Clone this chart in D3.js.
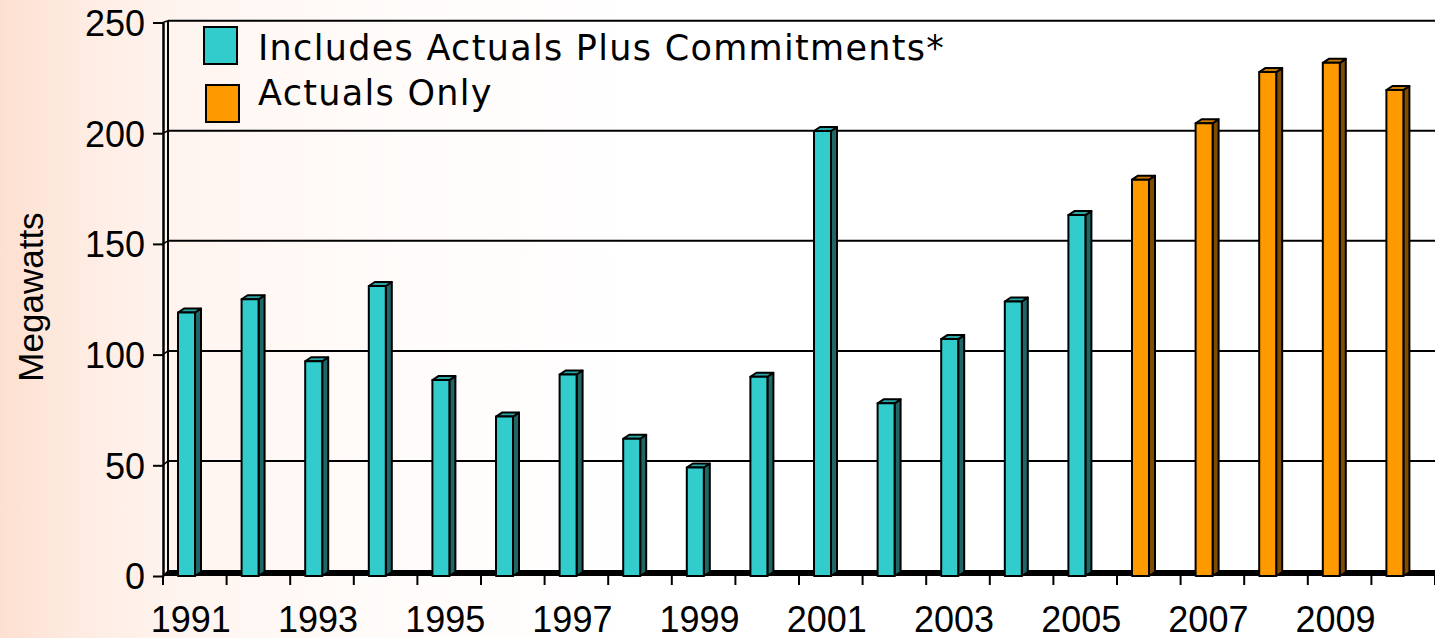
<!DOCTYPE html>
<html><head><meta charset="utf-8">
<script src="https://cdn.jsdelivr.net/npm/d3@7"></script>
<style>html,body{margin:0;padding:0;overflow:hidden;background:#fff}</style>
</head><body>
<svg id="c" width="1435" height="638"></svg>
<script>
// ---- data ----
const years = ["1991","1992","1993","1994","1995","1996","1997","1998","1999","2000",
               "2001","2002","2003","2004","2005","2006","2007","2008","2009","2010"];
const commitYears = ["1991","1992","1993","1994","1995","1996","1997","1998","1999","2000",
                     "2001","2002","2003","2004","2005"];
const commitValues = [119,125,97,131,88.5,72,91,62,49,90,201,78,107,124,163];
const actualYears = ["2006","2007","2008","2009","2010"];
const actualValues = [179,204.5,227.6,231.8,219.5];
const xTickLabels = ["1991","1993","1995","1997","1999","2001","2003","2005","2007","2009"];
const yTicks = [0,50,100,150,200,250];
const seriesNames = ["Includes Actuals Plus Commitments*","Actuals Only"];
const yTitle = "Megawatts";

// ---- drawing ----
const svg = d3.select("#c");
const W = 1435, H = 638;
const defs = svg.append("defs");
const g = defs.append("linearGradient").attr("id","bg").attr("x1","0").attr("x2","1").attr("y1","0").attr("y2","0");
[[0,"#fde0d0"],[0.06,"#feece3"],[0.13,"#fff5f0"],[0.25,"#fffbf9"],[0.45,"#ffffff"]].forEach(([o,c])=>
  g.append("stop").attr("offset",o).attr("stop-color",c));
svg.append("rect").attr("width",W).attr("height",H).attr("fill","url(#bg)");

const step = 63.6, x0 = 163;
const x = d3.scaleBand().domain(years).range([x0, x0 + step*years.length]).padding(0);
const yF = d3.scaleLinear().domain([0,250]).range([576,22.5]);
const yB = d3.scaleLinear().domain([0,250]).range([571,20.7]);
const dx = 5; // wall depth
const bdx = 6, bdy = -4; // bar depth

// back wall gridlines
const grid = svg.append("g");
yTicks.forEach(t=>{
  grid.append("line").attr("x1",x0+dx).attr("x2",W).attr("y1",yB(t)).attr("y2",yB(t))
    .attr("stroke","#000").attr("stroke-width",2);
  grid.append("line").attr("x1",x0).attr("x2",x0+dx).attr("y1",yF(t)).attr("y2",yB(t))
    .attr("stroke","#000").attr("stroke-width",1.5);
});
// back wall left edge
grid.append("line").attr("x1",x0+dx).attr("x2",x0+dx).attr("y1",yB(250)).attr("y2",yB(0))
  .attr("stroke","#000").attr("stroke-width",2);

// floor
svg.append("polygon")
  .attr("points",[[x0,yF(0)],[x0+dx,yB(0)],[W,yB(0)],[W,yF(0)]].map(p=>p.join(",")).join(" "))
  .attr("fill","#000");

// front y axis
const yAxis = d3.axisLeft(yF).tickValues(yTicks).tickSize(10).tickSizeOuter(0).tickPadding(8);
const ya = svg.append("g").attr("transform",`translate(${x0},0)`).call(yAxis);
ya.select(".domain").attr("stroke","#000").attr("stroke-width",2.5);
ya.selectAll(".tick line").attr("stroke","#000").attr("stroke-width",2);
ya.selectAll(".tick text").attr("font-family","'Liberation Sans', Arial, sans-serif")
  .attr("font-size",36).attr("fill","#000").attr("dy","0.36em");

// bottom ticks at band boundaries
const bounds = years.map(d=>x(d)).concat([x.range()[1]]);
svg.append("g").selectAll("line").data(bounds).join("line")
  .attr("x1",d=>d).attr("x2",d=>d).attr("y1",yF(0)).attr("y2",yF(0)+9)
  .attr("stroke","#000").attr("stroke-width",2);
svg.append("g").selectAll("text").data(xTickLabels).join("text")
  .attr("x",d=>x(d)+x.bandwidth()/2-4).attr("y",632).attr("text-anchor","middle")
  .attr("font-family","'Liberation Sans', Arial, sans-serif").attr("font-size",36).attr("fill","#000")
  .text(d=>d);

// bars
function bars(yrs, vals, front, side, top){
  const data = yrs.map((d,i)=>({year:d, v:vals[i]}));
  const gb = svg.append("g").attr("stroke","#000").attr("stroke-width",2).attr("stroke-linejoin","round");
  data.forEach(d=>{
    const bx = x(d.year)+15, bw = 17, yt = yF(d.v), yb = yF(0);
    gb.append("polygon").attr("fill",side)
      .attr("points",[[bx+bw,yt],[bx+bw+bdx,yt+bdy],[bx+bw+bdx,yb+bdy],[bx+bw,yb]].map(p=>p.join(",")).join(" "));
    gb.append("polygon").attr("fill",top)
      .attr("points",[[bx,yt],[bx+bdx,yt+bdy],[bx+bw+bdx,yt+bdy],[bx+bw,yt]].map(p=>p.join(",")).join(" "));
    gb.append("rect").attr("x",bx).attr("y",yt).attr("width",bw).attr("height",yb-yt).attr("fill",front);
  });
}
bars(commitYears, commitValues, "#33cccc", "#1f6666", "#2aa6a6");
bars(actualYears, actualValues, "#ff9900", "#7f4c00", "#cc7a00");

// legend
const leg = svg.append("g");
leg.append("rect").attr("x",204).attr("y",27).attr("width",33).attr("height",37)
  .attr("fill","#33cccc").attr("stroke","#000").attr("stroke-width",2);
leg.append("rect").attr("x",206).attr("y",85).attr("width",33).attr("height",37)
  .attr("fill","#ff9900").attr("stroke","#000").attr("stroke-width",2);
leg.selectAll("text").data(seriesNames).join("text")
  .attr("x",258).attr("y",(d,i)=>[60,105][i])
  .attr("font-family","'DejaVu Sans', Verdana, sans-serif").attr("font-size",35)
  .attr("letter-spacing",1.3).attr("fill","#000")
  .text(d=>d);

// y title
svg.append("text").attr("transform","translate(43,297) rotate(-90)").attr("text-anchor","middle")
  .attr("font-family","'Liberation Sans', Arial, sans-serif").attr("font-size",35).attr("fill","#000")
  .text(yTitle);
</script>
</body></html>
